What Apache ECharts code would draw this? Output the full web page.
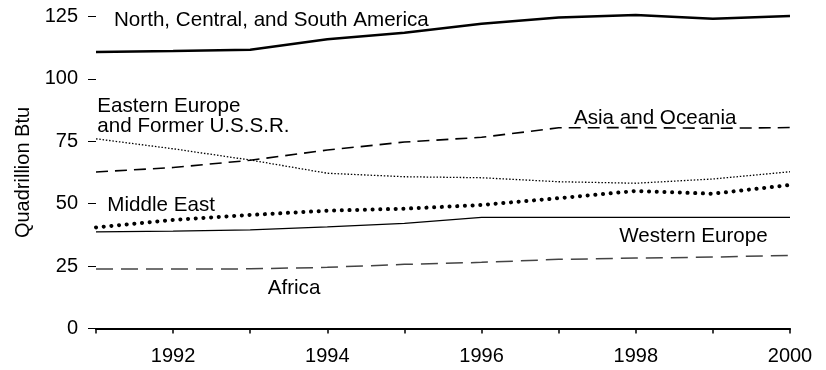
<!DOCTYPE html>
<html>
<head>
<meta charset="utf-8">
<script src="https://cdn.jsdelivr.net/npm/echarts@6/dist/echarts.min.js"></script>
<style>
html,body{margin:0;padding:0;background:#fff;}
#chart{width:826px;height:370px;}
</style>
</head>
<body>
<div id="chart"></div>
<script>
var years = ['1991','1992','1993','1994','1995','1996','1997','1998','1999','2000'];
var northAmerica = [110.8, 111.2, 111.7, 115.9, 118.5, 122.1, 124.6, 125.6, 124.1, 125.2];
var asiaOceania = [62.7, 64.5, 67.4, 71.5, 74.7, 76.6, 80.4, 80.5, 80.2, 80.5];
var easternEurope = [76.0, 72.0, 67.5, 62.2, 60.8, 60.4, 58.8, 58.2, 59.9, 62.8];
var middleEast = [40.5, 43.5, 45.5, 47.2, 48.0, 49.5, 52.2, 55.1, 54.0, 57.5];
var westernEurope = [38.7, 39.0, 39.5, 40.7, 42.1, 44.5, 44.5, 44.5, 44.5, 44.5];
var africa = [23.8, 23.8, 23.9, 24.5, 25.7, 26.5, 27.7, 28.2, 28.6, 29.3];
var yTicks = [0, 25, 50, 75, 100, 125];

var FONT = '"Liberation Sans", Arial, Helvetica, sans-serif';
var chart = echarts.init(document.getElementById('chart'), null, {renderer: 'canvas'});

function lineSeries(name, data, style) {
  return {
    name: name, type: 'line', data: data, symbol: 'none', smooth: false,
    clip: false, silent: true,
    lineStyle: style
  };
}
function label(text, x, baseline) {
  return {
    type: 'text', silent: true,
    style: {text: text, x: x, y: baseline - 6.7, align: 'left', verticalAlign: 'middle',
            font: '20.6px ' + FONT, fill: '#000'}
  };
}

chart.setOption({
  animation: false,
  backgroundColor: '#fff',
  grid: {left: 96, right: 36, top: 16.5, bottom: 41.5, containLabel: false, outerBoundsMode: 'none'},
  xAxis: {
    type: 'category', data: years, boundaryGap: false,
    axisLine: {show: true, lineStyle: {color: '#000', width: 2}},
    axisTick: {show: true, interval: 0, length: 5, lineStyle: {color: '#000', width: 1.5}},
    axisLabel: {
      interval: function (i) { return i % 2 === 1; },
      color: '#000', fontSize: 20, fontFamily: FONT, margin: 18
    },
    splitLine: {show: false}
  },
  yAxis: {
    type: 'value', min: yTicks[0], max: yTicks[yTicks.length - 1], interval: 25,
    name: 'Quadrillion Btu', nameLocation: 'middle', nameGap: 55,
    nameTextStyle: {color: '#000', fontSize: 20, fontFamily: FONT},
    axisLine: {show: false},
    axisTick: {show: true, length: 8, lineStyle: {color: '#000', width: 1}},
    axisLabel: {color: '#000', fontSize: 20, fontFamily: FONT, margin: 18},
    splitLine: {show: false}
  },
  series: [
    lineSeries('Africa', africa, {color: '#444', width: 1.5, type: [17, 8]}),
    lineSeries('Western Europe', westernEurope, {color: '#000', width: 1.2, type: 'solid'}),
    lineSeries('Eastern Europe and Former U.S.S.R.', easternEurope, {color: '#000', width: 1.3, type: [1.5, 1.8]}),
    lineSeries('Asia and Oceania', asiaOceania, {color: '#000', width: 1.6, type: [12, 7]}),
    lineSeries('Middle East', middleEast, {color: '#000', width: 4, type: [0.1, 7.6], cap: 'round'}),
    lineSeries('North, Central, and South America', northAmerica, {color: '#000', width: 2.6, type: 'solid'})
  ],
  graphic: [
    label('North, Central, and South America', 114, 26.7),
    label('Eastern Europe', 97.3, 113.3),
    label('and Former U.S.S.R.', 97.3, 133.3),
    label('Asia and Oceania', 574, 125),
    label('Middle East', 107.3, 211.7),
    label('Western Europe', 619.3, 242.7),
    label('Africa', 267.7, 295)
  ]
});
</script>
</body>
</html>
